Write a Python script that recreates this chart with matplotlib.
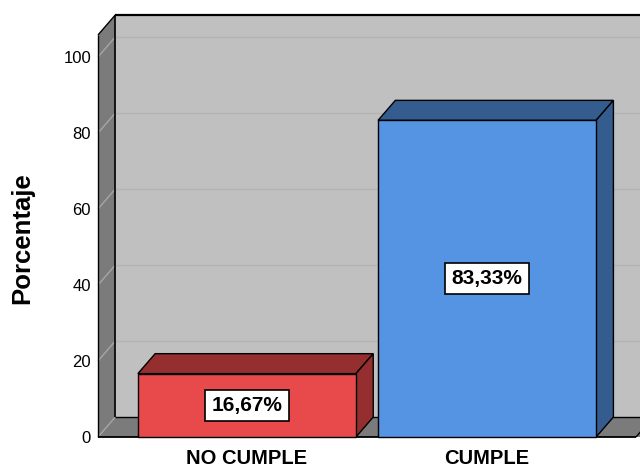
import matplotlib
matplotlib.use("Agg")
import matplotlib.pyplot as plt
from matplotlib.patches import Polygon, Rectangle

plt.rcParams['font.family'] = ['Liberation Sans', 'DejaVu Sans']

categories = ["NO CUMPLE", "CUMPLE"]
percentages = [16.67, 83.33]
value_labels = ["16,67%", "83,33%"]
y_ticks = [0, 20, 40, 60, 80, 100]
y_title = "Porcentaje"

front_colors = ["#e84a4b", "#5594e3"]
shade_colors = ["#952e2e", "#345c8e"]

# pseudo-3D geometry (in data units)
bar_w = 0.908
dx, dy = 0.072, 5.26
x_lo, x_hi = -0.62, 1.62
y_top = 105.8
x_far = 2.2

fig = plt.figure(figsize=(6.4, 4.7), dpi=100)
ax = fig.add_axes([98 / 640, 33 / 470, 538 / 640, 380 / 470])
ax.set_xlim(x_lo, x_hi)
ax.set_ylim(0, 100)
for s in ax.spines.values():
    s.set_visible(False)
ax.patch.set_visible(False)

wall_back = "#c0c0c0"
wall_side = "#7b7b7b"

def poly(pts, fc, ec="black", lw=1.0, z=1):
    p = Polygon(pts, closed=True, facecolor=fc, edgecolor=ec, linewidth=lw,
                clip_on=False, zorder=z, joinstyle="miter")
    ax.add_patch(p)

def seg(xs, ys, color="black", lw=1.0, z=2.6):
    ax.plot(xs, ys, color=color, lw=lw, clip_on=False, zorder=z,
            solid_capstyle="butt")

# back wall
poly([(x_lo + dx, dy), (x_lo + dx, y_top + dy), (x_far, y_top + dy), (x_far, dy)],
     wall_back, ec="none", z=1)
for t in y_ticks[1:]:
    seg([x_lo + dx, x_far], [t + dy, t + dy], color="#b3b3b3", z=1.5)

# side wall
poly([(x_lo, 0), (x_lo, y_top), (x_lo + dx, y_top + dy), (x_lo + dx, dy)],
     wall_side, ec="none", z=2)
for t in y_ticks[1:]:
    seg([x_lo, x_lo + dx], [t, t + dy], color="#a6a6a6", z=2.5)

# floor
poly([(x_lo, 0), (x_lo + dx, dy), (x_far, dy), (x_far, 0.0001),
      (x_hi + dx, dy), (x_hi, 0)], wall_side, ec="none", z=2)
poly([(x_lo + dx, dy), (x_far, dy), (x_far, 0), (x_hi, 0), (x_hi + dx, dy)],
     wall_side, ec="none", z=2)

# wall and floor outlines
seg([x_lo, x_lo + dx], [0, dy], color="#a6a6a6", z=2.5)
seg([x_lo, x_lo], [0, y_top])
seg([x_lo, x_lo + dx], [y_top, y_top + dy])
seg([x_lo + dx, x_lo + dx], [dy, y_top + dy], lw=1.2)
seg([x_lo + dx, x_far], [y_top + dy, y_top + dy], lw=1.6)
seg([x_lo + dx, x_far], [dy, dy])
seg([x_lo, x_hi], [0, 0], lw=1.3)
seg([x_hi, x_hi + dx], [0, dy])

# bars
for i, (v, fc, sc, lab) in enumerate(zip(percentages, front_colors, shade_colors, value_labels)):
    l, r = i - bar_w / 2, i + bar_w / 2
    poly([(l, v), (l + dx, v + dy), (r + dx, v + dy), (r, v)], sc, z=3)
    poly([(r, 0), (r + dx, dy), (r + dx, v + dy), (r, v)], sc, z=3)
    ax.add_patch(Rectangle((l, 0), bar_w, v, facecolor=fc, edgecolor="black",
                           linewidth=1.0, clip_on=False, zorder=4))
    ax.text(i, v / 2, lab, ha="center", va="center", fontsize=15,
            fontweight="bold", zorder=6,
            bbox=dict(boxstyle="square,pad=0.3", facecolor="white",
                      edgecolor="black", linewidth=1.2))

ax.set_yticks(y_ticks)
ax.set_yticklabels([str(t) for t in y_ticks], fontsize=12)
ax.set_xticks(range(len(categories)))
ax.set_xticklabels(categories, fontsize=14.5, fontweight="bold")
ax.tick_params(axis="y", length=0, pad=5)
ax.tick_params(axis="x", length=0, pad=8.5)

fig.text(22.6 / 640, 1 - 238 / 470, y_title, rotation=90, ha="center",
         va="center", fontsize=18.5, fontweight="bold")

fig.savefig("out.png", dpi=100)
